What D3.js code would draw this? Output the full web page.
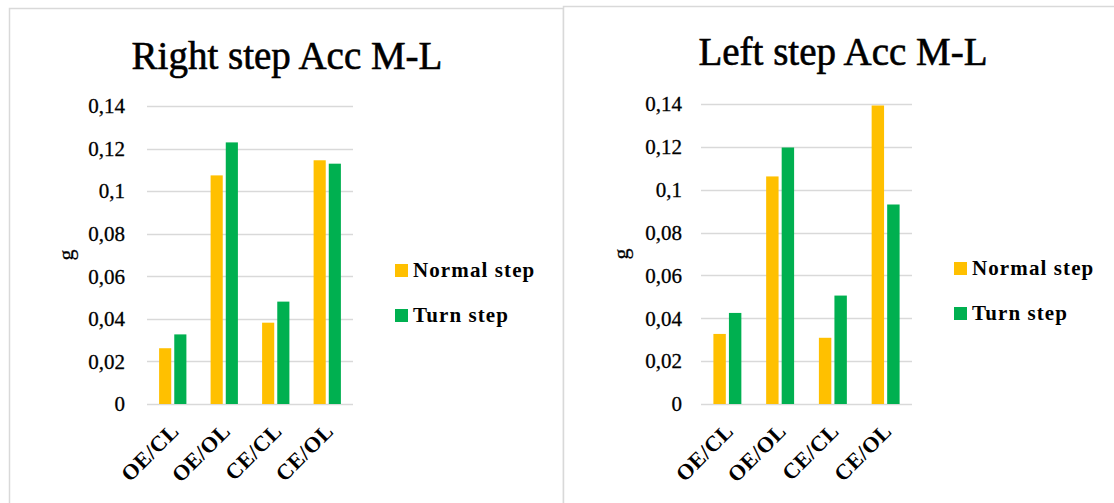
<!DOCTYPE html>
<html>
<head>
<meta charset="utf-8">
<script src="https://cdn.jsdelivr.net/npm/d3@7"></script>
<style>
  body { margin: 0; background: #fff; }
  svg { display: block; }
</style>
</head>
<body>
<svg id="chart" width="1114" height="503" font-family="'Liberation Serif', 'DejaVu Serif', serif"></svg>
<script>
// categories and series
const categories = ["OE/CL", "OE/OL", "CE/CL", "CE/OL"];
const seriesNames = ["Normal step", "Turn step"];
const seriesColors = ["#FFC000", "#00B050"];
const yTicks = [0, 0.02, 0.04, 0.06, 0.08, 0.1, 0.12, 0.14];

// values (g)
const rightNormal = [0.0262, 0.1074, 0.0382, 0.1145];
const rightTurn   = [0.0327, 0.1229, 0.0481, 0.1129];
const leftNormal  = [0.0327, 0.1062, 0.0309, 0.1393];
const leftTurn    = [0.0425, 0.1197, 0.0506, 0.0931];

const svg = d3.select("#chart");

const panels = [
  { title: "Right step Acc M-L", series: [rightNormal, rightTurn],
    box: {x: 9.5, y: 8.5, w: 554, h: 520},
    plot: {x0: 147, x1: 353, y0: 106, y1: 404},
    titleX: 287, titleY: 69, tickX: 125, gX: 65, legendX: 395, legendY: [264, 309] },
  { title: "Left step Acc M-L", series: [leftNormal, leftTurn],
    box: {x: 563.5, y: 6.5, w: 560, h: 520},
    plot: {x0: 701, x1: 912, y0: 104, y1: 404},
    titleX: 843, titleY: 65, tickX: 682, gX: 620, legendX: 954, legendY: [262, 307] }
];

const fmt = d => d === 0 ? "0" : String(d).replace(".", ",");

panels.forEach(p => {
  const g = svg.append("g");

  g.append("rect")
    .attr("x", p.box.x).attr("y", p.box.y)
    .attr("width", p.box.w).attr("height", p.box.h)
    .attr("fill", "#fff").attr("stroke", "#d9d9d9").attr("stroke-width", 1.5);

  const x0 = d3.scaleBand().domain(categories)
    .range([p.plot.x0, p.plot.x1]).paddingInner(0.47).paddingOuter(0.235);
  const x1 = d3.scaleBand().domain(d3.range(seriesNames.length))
    .range([0, x0.bandwidth()]).paddingInner(0.2);
  const y = d3.scaleLinear().domain([0, 0.14]).range([p.plot.y1, p.plot.y0]);

  // gridlines
  g.append("g").selectAll("line").data(yTicks).join("line")
    .attr("x1", p.plot.x0).attr("x2", p.plot.x1)
    .attr("y1", d => Math.round(y(d)) + 0.5).attr("y2", d => Math.round(y(d)) + 0.5)
    .attr("stroke", "#d9d9d9").attr("stroke-width", 1.5);

  // tick labels
  g.append("g").selectAll("text").data(yTicks).join("text")
    .attr("x", p.tickX).attr("y", d => y(d)).attr("dy", "0.35em")
    .attr("text-anchor", "end").attr("font-size", 21)
    .attr("stroke", "#000").attr("stroke-width", 0.3)
    .text(fmt);

  // bars
  const groups = g.append("g").selectAll("g").data(categories).join("g")
    .attr("transform", c => `translate(${x0(c)},0)`);
  groups.selectAll("rect")
    .data((c, ci) => p.series.map((s, si) => ({si, v: s[ci]})))
    .join("rect")
    .attr("x", d => x1(d.si)).attr("width", x1.bandwidth())
    .attr("y", d => y(d.v)).attr("height", d => y(0) - y(d.v))
    .attr("fill", d => seriesColors[d.si]);

  // category labels
  g.append("g").selectAll("text").data(categories).join("text")
    .attr("transform", c => `translate(${x0(c) + x0.bandwidth() / 2 + 2},${p.plot.y1 + 23}) rotate(-45)`)
    .attr("dy", "0.35em").attr("text-anchor", "end")
    .attr("font-size", 22).attr("font-weight", "bold")
    .attr("letter-spacing", 0.5)
    .text(c => c);

  // axis title
  g.append("text")
    .attr("transform", `translate(${p.gX},${(p.plot.y0 + p.plot.y1) / 2}) rotate(-90)`)
    .attr("dy", "0.35em").attr("text-anchor", "middle")
    .attr("font-size", 22).attr("stroke", "#000").attr("stroke-width", 0.3)
    .text("g");

  // chart title
  g.append("text")
    .attr("x", p.titleX).attr("y", p.titleY).attr("text-anchor", "middle")
    .attr("font-size", 39).attr("stroke", "#000").attr("stroke-width", 0.6)
    .text(p.title);

  // legend
  seriesNames.forEach((name, i) => {
    g.append("rect")
      .attr("x", p.legendX).attr("y", p.legendY[i])
      .attr("width", 13).attr("height", 13).attr("fill", seriesColors[i]);
    g.append("text")
      .attr("x", p.legendX + 18).attr("y", p.legendY[i] + 13)
      .attr("font-size", 21).attr("font-weight", "bold")
      .attr("letter-spacing", 1.1)
      .text(name);
  });
});
</script>
</body>
</html>
